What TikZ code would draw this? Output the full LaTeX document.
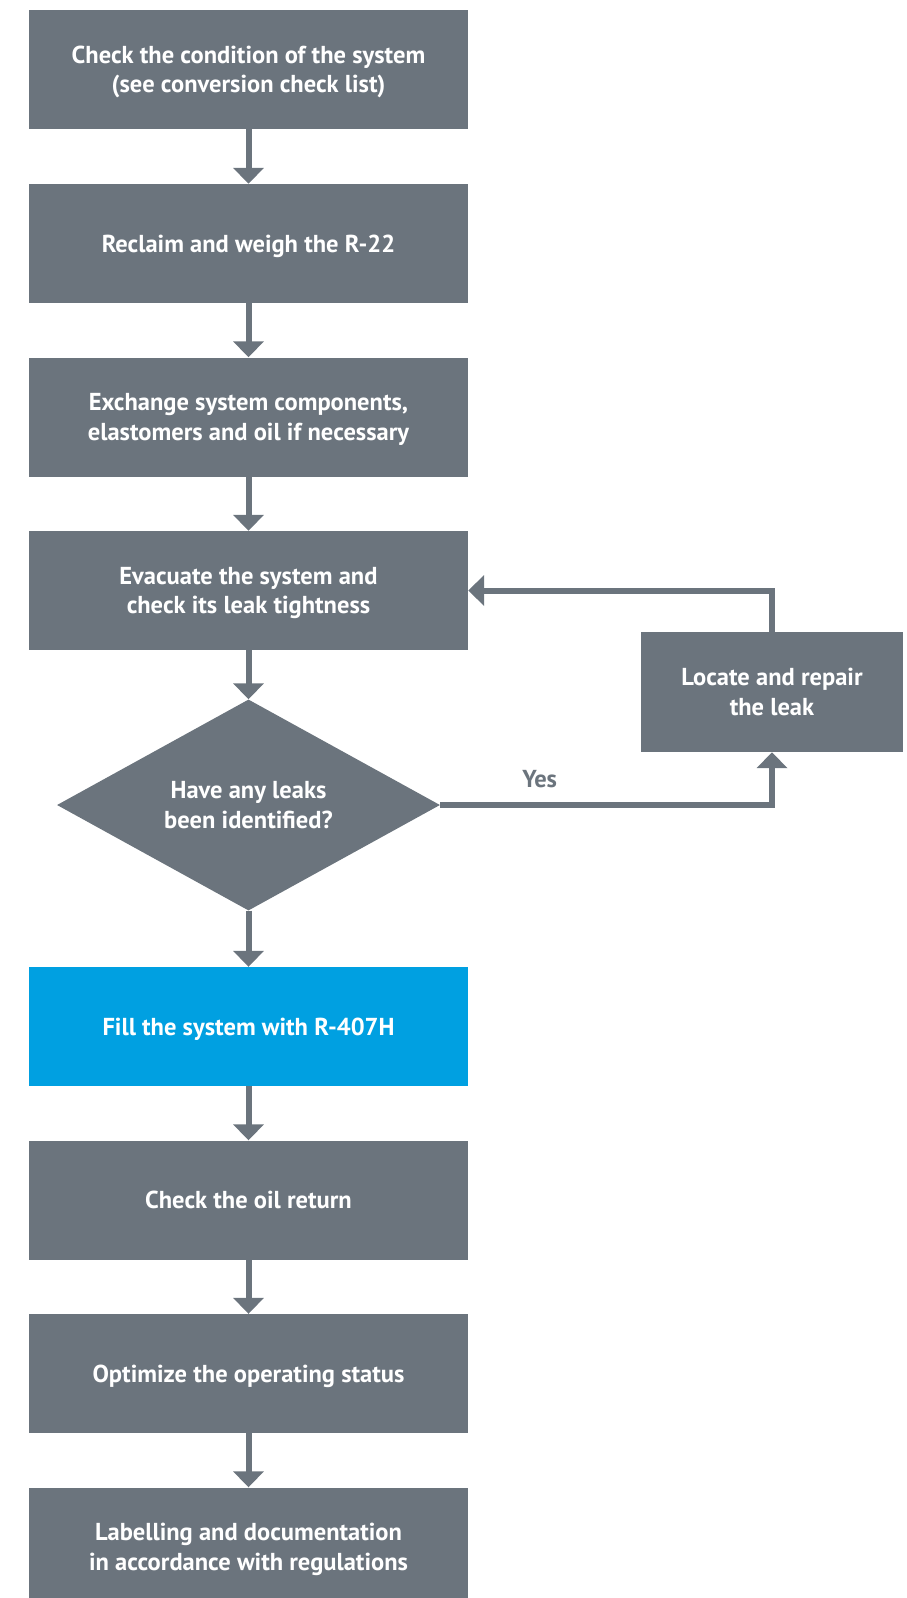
\documentclass[tikz,border=0pt]{standalone}
\usepackage{fontspec}
\setmainfont{PT Sans}
\usetikzlibrary{arrows.meta,shapes.geometric}
\definecolor{stepgray}{RGB}{107,116,125}
\definecolor{stepblue}{RGB}{0,160,225}
\newcommand{\bx}{\fontsize{24.5}{29.5}\selectfont\bfseries}

\tikzset{
  leakbox/.style={rectangle, fill=stepgray, text=white, inner sep=0pt,
                  minimum width=262pt, minimum height=120pt, align=center, font=\bx},
  stepbox/.style={leakbox, minimum width=439pt, minimum height=119pt, text depth=-2pt},
  fillbox/.style={stepbox, fill=stepblue},
  askbox/.style={diamond, fill=stepgray, text=white, inner sep=0pt, aspect=1.815,
                 minimum width=383pt, minimum height=211pt, align=center, font=\bx,
                 text depth=-2pt},
  flow/.style={draw=stepgray, line width=6pt,
               -{Triangle[length=16pt,width=30pt]}}
}

\begin{document}
\begin{tikzpicture}[x=1pt,y=-1pt]
   \useasboundingbox (0,0) rectangle (906,1598);
   \clip (0,0) rectangle (906,1598);
   \node[stepbox] (cond)   at (248.5,  69.5) {Check the condition of the system\\(see conversion check list)};
   \node[stepbox] (claim)  at (248.5, 243.5) {Reclaim and weigh the R-22};
   \node[stepbox] (exch)   at (248.5, 417.0) {Exchange system components,\\elastomers and oil if necessary};
   \node[stepbox] (evac)   at (248.5, 590.5) {Evacuate the system and\\check its leak tightness};
   \node[askbox]  (leaks)  at (248.5, 805.0) {Have any leaks\\been identified?};
   \node[fillbox] (fill)   at (248.5,1026.5) {Fill the system with R-407H};
   \node[stepbox] (oil)    at (248.5,1200.0) {Check the oil return};
   \node[stepbox] (optim)  at (248.5,1373.5) {Optimize the operating status};
   \node[stepbox] (label)  at (248.5,1547.0) {Labelling and documentation\\in accordance with regulations};
   \node[leakbox] (repair) at (772.0, 692.0) {Locate and repair\\the leak};
   \draw[flow] (cond)  -- (claim);
   \draw[flow] (claim) -- (exch);
   \draw[flow] (exch)  -- (evac);
   \draw[flow] (evac)  -- (leaks);
   \draw[flow] (leaks) -- (fill);
   \draw[flow] (fill)  -- (oil);
   \draw[flow] (oil)   -- (optim);
   \draw[flow] (optim) -- (label);
   \draw[flow] (leaks.east) -| (repair.south)
      node[pos=0.15, above=11pt, text=stepgray, font=\bx]{Yes};
   \draw[flow] (repair.north) |- (evac.east);
\end{tikzpicture}
\end{document}
